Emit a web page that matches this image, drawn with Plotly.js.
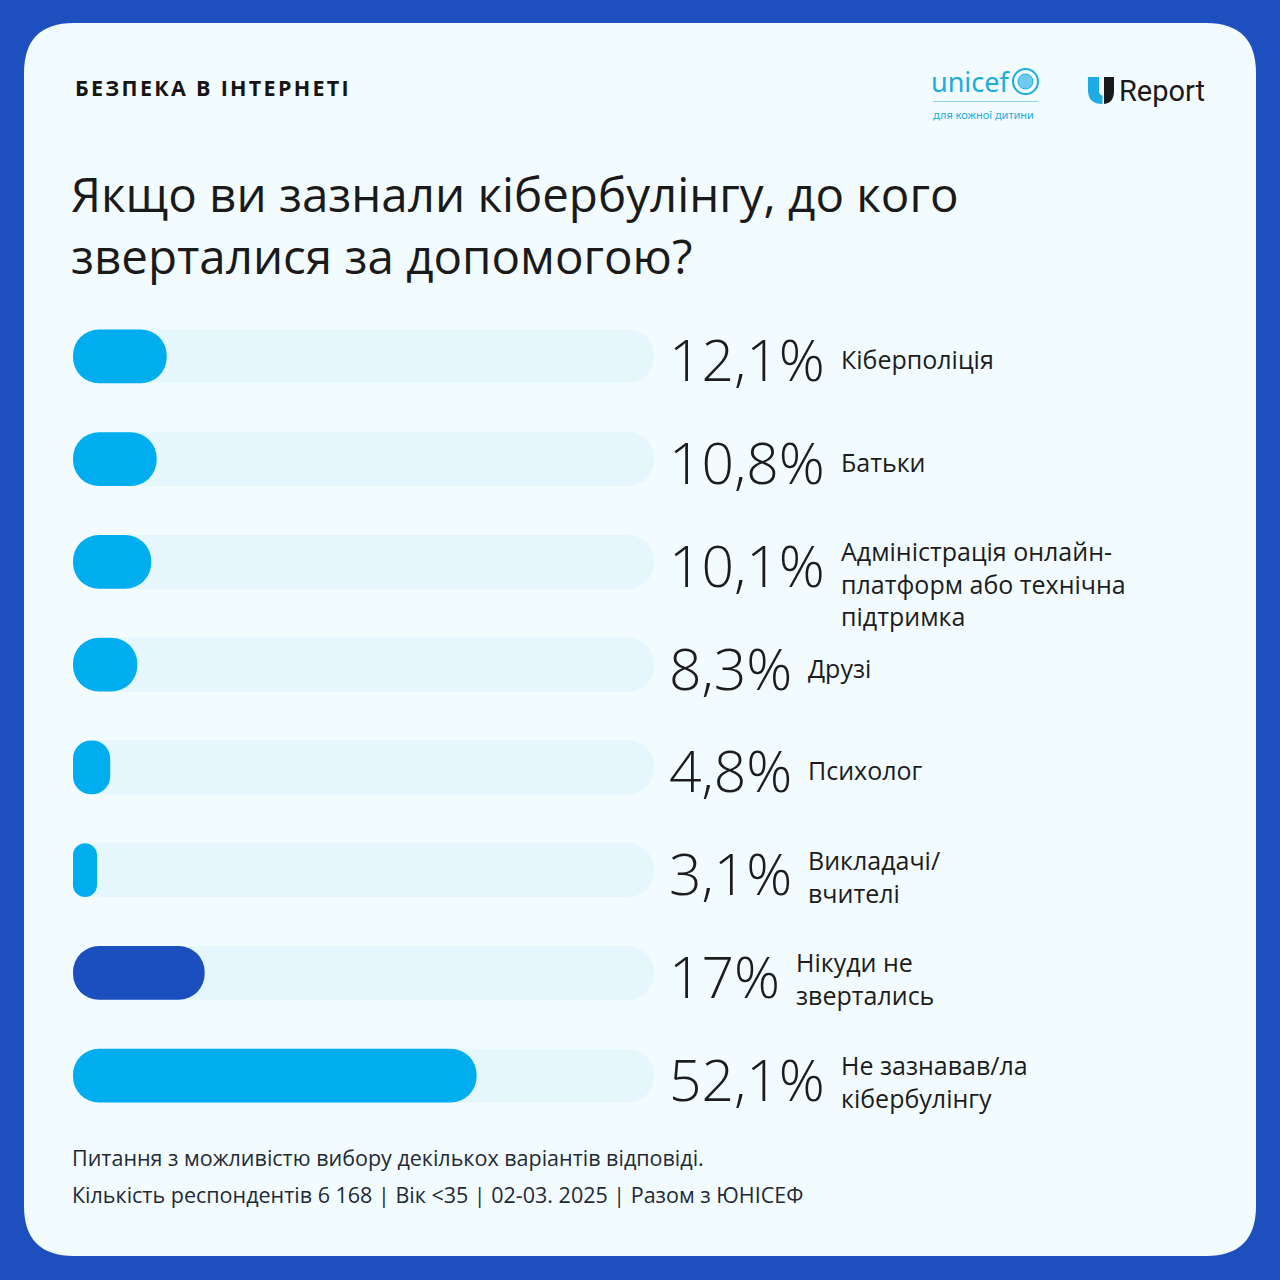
<!DOCTYPE html>
<html>
<head>
<meta charset="utf-8">
<script src="https://cdn.plot.ly/plotly-3.0.1.min.js"></script>
<style>
  html, body { margin: 0; padding: 0; background: #1d4fbf; }
  #chart { width: 1280px; height: 1280px; }
</style>
</head>
<body>
<div id="chart"></div>
<script>
// ---------- DATA ----------
const categories = [
  "Кіберполіція",
  "Батьки",
  "Адміністрація онлайн-<br>платформ або технічна<br>підтримка",
  "Друзі",
  "Психолог",
  "Викладачі/<br>вчителі",
  "Нікуди не<br>звертались",
  "Не зазнавав/ла<br>кібербулінгу"
];
const values = [12.1, 10.8, 10.1, 8.3, 4.8, 3.1, 17, 52.1];
const valueLabels = ["12,1%", "10,8%", "10,1%", "8,3%", "4,8%", "3,1%", "17%", "52,1%"];
const highlightCategory = "Нікуди не<br>звертались";
const trackMax = 75;

const headerText = "БЕЗПЕКА В ІНТЕРНЕТІ";
const titleText = "Якщо ви зазнали кібербулінгу, до кого<br>зверталися за допомогою?";
const footnote1 = "Питання з можливістю вибору декількох варіантів відповіді.";
const footnote2 = "Кількість респондентів 6 168 | Вік <35 | 02-03. 2025 | Разом з ЮНІСЕФ";

// ---------- LAYOUT CONSTANTS ----------
const SIZE = 1280;
const M = { l: 73, r: 45, t: 305, b: 153 };
const PW = SIZE - M.l - M.r;
const PH = SIZE - M.t - M.b;
const XMAX = 150;
const pxPerUnit = PW / XMAX;

const FONT = "Open Sans";
const CYAN = "#00aeef";
const DARK = "#1b4fbe";
const TRACK = "#e5f6fc";
const PANEL = "#f2fbfe";
const OUTER = "#1d4fbf";
const TEXT = "#1c1c1c";

const px2x = px => (px - M.l) / PW;               // paper x
const py2y = py => (SIZE - M.b - py) / PH;        // paper y
const pt = (px, py) => px2x(px).toFixed(5) + "," + py2y(py).toFixed(5);

function roundRectPath(x0, y0, x1, y1, r) {
  return "M" + pt(x0 + r, y0) +
    " L" + pt(x1 - r, y0) + " Q" + pt(x1, y0) + " " + pt(x1, y0 + r) +
    " L" + pt(x1, y1 - r) + " Q" + pt(x1, y1) + " " + pt(x1 - r, y1) +
    " L" + pt(x0 + r, y1) + " Q" + pt(x0, y1) + " " + pt(x0, y1 - r) +
    " L" + pt(x0, y0 + r) + " Q" + pt(x0, y0) + " " + pt(x0 + r, y0) + " Z";
}

// text measuring for placing labels after the percentages
const cv = document.createElement("canvas").getContext("2d");
const PCT_SIZE = 57;
const PCT_WEIGHT = 300;
const LABEL_SIZE = 25;
function textWidth(t, size, weight, family) {
  cv.font = weight + " " + size + "px '" + family + "'";
  return cv.measureText(t).width;
}

// ---------- TRACES ----------
const barWidth = 0.525;
const tracks = {
  type: "bar", orientation: "h",
  y: categories, x: categories.map(() => trackMax), base: 0,
  width: barWidth,
  marker: { color: TRACK, cornerradius: "50%", line: { width: 0 } },
  hoverinfo: "skip", showlegend: false
};
const bars = {
  type: "bar", orientation: "h",
  y: categories, x: values, base: 0,
  width: barWidth,
  marker: {
    color: categories.map(c => c === highlightCategory ? DARK : CYAN),
    cornerradius: "50%", line: { width: 0 }
  },
  hoverinfo: "skip", showlegend: false
};

// ---------- ANNOTATIONS ----------
const pctXpx = 667;
const pctX = (pctXpx - M.l) / pxPerUnit;
const annotations = [];
categories.forEach((c, i) => {
  annotations.push({
    xref: "x", yref: "y", x: pctX, y: c,
    xanchor: "left", yanchor: "middle", yshift: -3,
    text: valueLabels[i], showarrow: false,
    font: { family: FONT, size: PCT_SIZE, weight: PCT_WEIGHT, color: TEXT }
  });
  const w = textWidth(valueLabels[i], PCT_SIZE, PCT_WEIGHT, FONT);
  const nLines = c.split("<br>").length;
  const offset = nLines > 1 ? -13 + (nLines - 1) * 16 : 0;
  annotations.push({
    xref: "x", yref: "y", x: pctX, y: c,
    xanchor: "left", yanchor: "middle", align: "left",
    xshift: w + 16, yshift: -3 - offset,
    text: c, showarrow: false,
    font: { family: FONT, size: LABEL_SIZE, color: TEXT }
  });
});

// header
annotations.push({
  xref: "paper", yref: "paper", x: px2x(73), y: py2y(87),
  xanchor: "left", yanchor: "middle", showarrow: false,
  text: '<span style="letter-spacing:2.3px">' + headerText + '</span>',
  font: { family: FONT, size: 21.5, weight: 700, color: "#151515" }
});
// footnotes
annotations.push({
  xref: "paper", yref: "paper", x: px2x(70), y: py2y(1157),
  xanchor: "left", yanchor: "middle", showarrow: false,
  text: footnote1, font: { family: FONT, size: 21.5, color: "#1f2a36" }
});
annotations.push({
  xref: "paper", yref: "paper", x: px2x(70), y: py2y(1194),
  xanchor: "left", yanchor: "middle", showarrow: false,
  text: footnote2.replace("<", "&lt;"), font: { family: FONT, size: 21.5, color: "#1f2a36" }
});
// unicef logo text
annotations.push({
  xref: "paper", yref: "paper", x: px2x(929), y: py2y(82),
  xanchor: "left", yanchor: "middle", showarrow: false,
  text: "unicef", font: { family: "Noto Sans", size: 27, color: "#1cabe2" }
});
annotations.push({
  xref: "paper", yref: "paper", x: px2x(931), y: py2y(115),
  xanchor: "left", yanchor: "middle", showarrow: false,
  text: "для кожної дитини", font: { family: "Noto Sans", size: 11, color: "#1cabe2" }
});
// U-Report text
annotations.push({
  xref: "paper", yref: "paper", x: px2x(1117), y: py2y(91),
  xanchor: "left", yanchor: "middle", showarrow: false,
  text: "Report", font: { family: "Roboto", size: 29, color: "#1a1a1a" }
});

// ---------- SHAPES ----------
const shapes = [
  { type: "path", xref: "paper", yref: "paper", layer: "below",
    path: roundRectPath(24, 23, 1256, 1256, 50),
    fillcolor: PANEL, line: { width: 0 } },
  // unicef emblem
  { type: "circle", xref: "paper", yref: "paper", layer: "above",
    x0: px2x(1013), x1: px2x(1038), y0: py2y(69), y1: py2y(94),
    fillcolor: "rgba(0,0,0,0)", line: { color: "#1cabe2", width: 2 } },
  { type: "circle", xref: "paper", yref: "paper", layer: "above",
    x0: px2x(1018), x1: px2x(1033), y0: py2y(74), y1: py2y(89),
    fillcolor: "#6fcaef", line: { color: "#1cabe2", width: 1 } },
  { type: "line", xref: "paper", yref: "paper", layer: "above",
    x0: px2x(933), x1: px2x(1038), y0: py2y(101.5), y1: py2y(101.5),
    line: { color: "#8dd4f1", width: 1 } },
  // U logo: cyan part
  { type: "path", xref: "paper", yref: "paper", layer: "above",
    path: "M" + pt(1088, 77) + " L" + pt(1099, 77) + " L" + pt(1099, 91) +
      " Q" + pt(1099, 95) + " " + pt(1102.5, 95.5) + " L" + pt(1102.5, 104) +
      " Q" + pt(1088, 104) + " " + pt(1088, 90) + " Z",
    fillcolor: "#1cabe2", line: { width: 0 } },
  // U logo: dark part
  { type: "path", xref: "paper", yref: "paper", layer: "above",
    path: "M" + pt(1104, 77) + " L" + pt(1114, 77) + " L" + pt(1114, 91) +
      " Q" + pt(1114, 103) + " " + pt(1104, 104) + " Z",
    fillcolor: "#1a1a1a", line: { width: 0 } }
];

const layout = {
  width: SIZE, height: SIZE,
  margin: M,
  paper_bgcolor: OUTER,
  plot_bgcolor: "rgba(0,0,0,0)",
  barmode: "overlay",
  showlegend: false,
  hovermode: false,
  title: {
    text: titleText,
    xref: "container", yref: "container",
    x: 71 / SIZE, xanchor: "left",
    y: 1 - 212 / SIZE, yanchor: "top",
    font: { family: FONT, size: 47.5, color: "#1a1a1a" }
  },
  xaxis: { range: [0, XMAX], showgrid: false, zeroline: false, showticklabels: false, showline: false, fixedrange: true },
  yaxis: { type: "category", categoryorder: "array", categoryarray: categories,
           range: [categories.length - 0.5, -0.5],
           showgrid: false, zeroline: false, showticklabels: false, showline: false, fixedrange: true },
  shapes: shapes,
  annotations: annotations
};

Plotly.newPlot("chart", [tracks, bars], layout, { displayModeBar: false, staticPlot: true });
</script>
</body>
</html>
